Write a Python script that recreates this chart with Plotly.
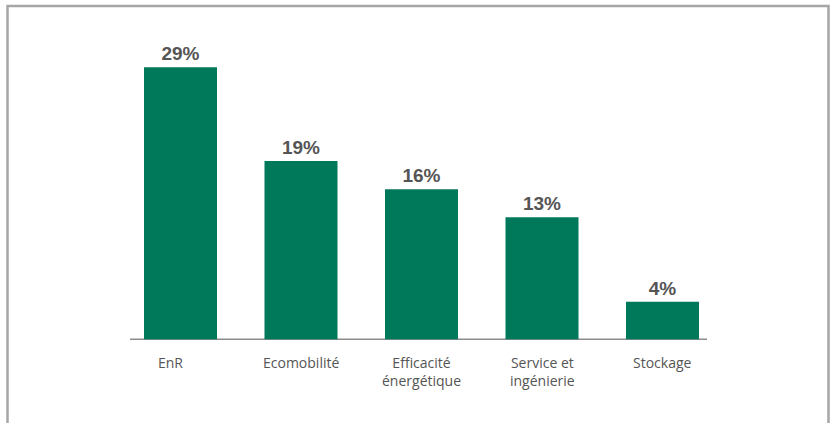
import plotly.graph_objects as go

# Répartition par secteur
categories = ["EnR", "Ecomobilité", "Efficacité énergétique", "Service et ingénierie", "Stockage"]
tick_labels = ["EnR", "Ecomobilité", "Efficacité<br>énergétique", "Service et<br>ingénierie", "Stockage"]
values = [29, 19, 16, 13, 4]

W, H = 832, 423
BAR_COLOR = "#00785A"
TEXT_COLOR = "#555555"
FRAME_COLOR = "#a6a6a6"

# pixel geometry of the plotting frame
x_first_px, x_step_px = 180.5, 120.5      # centre of first bar, spacing
y_zero_px, y_unit_px = 339.3, 9.38        # baseline, pixels per percent

def px_to_x(px):
    return (px - x_first_px) / x_step_px

def px_to_y(py):
    return (y_zero_px - py) / y_unit_px

xs = list(range(len(categories)))
label_shift = [-10, 0, 0, 0, 0]   # the first label sits slightly left of its bar

fig = go.Figure(
    go.Bar(
        x=xs,
        y=values,
        width=73 / x_step_px,
        marker=dict(color=BAR_COLOR, line=dict(width=0)),
        text=[f"{v}%" for v in values],
        textposition="outside",
        cliponaxis=False,
        textfont=dict(family="Liberation Sans", size=19, color=TEXT_COLOR, weight="bold"),
        hoverinfo="skip",
    )
)

# category labels under the baseline
for x, lab, dx in zip(xs, tick_labels, label_shift):
    fig.add_annotation(
        x=x, y=px_to_y(351), xref="x", yref="y", xshift=dx,
        text=lab, showarrow=False, yanchor="top", xanchor="center",
        align="center",
        font=dict(family="Open Sans", size=14, color=TEXT_COLOR),
    )

# baseline
fig.add_shape(
    type="line", xref="x", yref="y",
    x0=px_to_x(130), x1=px_to_x(707), y0=0, y1=0,
    line=dict(color="#8c8c8c", width=1.5), layer="below",
)

# open frame (left, top, right)
fx0, fx1, fy = 7.5 / W, 828.5 / W, 1 - 6 / H
fig.add_shape(
    type="path", xref="paper", yref="paper",
    path=f"M {fx0} 0 L {fx0} {fy} L {fx1} {fy} L {fx1} 0",
    line=dict(color=FRAME_COLOR, width=2.5),
)

fig.update_layout(
    width=W, height=H,
    margin=dict(l=0, r=0, t=0, b=0),
    paper_bgcolor="white", plot_bgcolor="white",
    showlegend=False,
    xaxis=dict(range=[px_to_x(0), px_to_x(W)], visible=False, fixedrange=True),
    yaxis=dict(range=[px_to_y(H), px_to_y(0)], visible=False, fixedrange=True),
)

fig.write_html("out.html")
